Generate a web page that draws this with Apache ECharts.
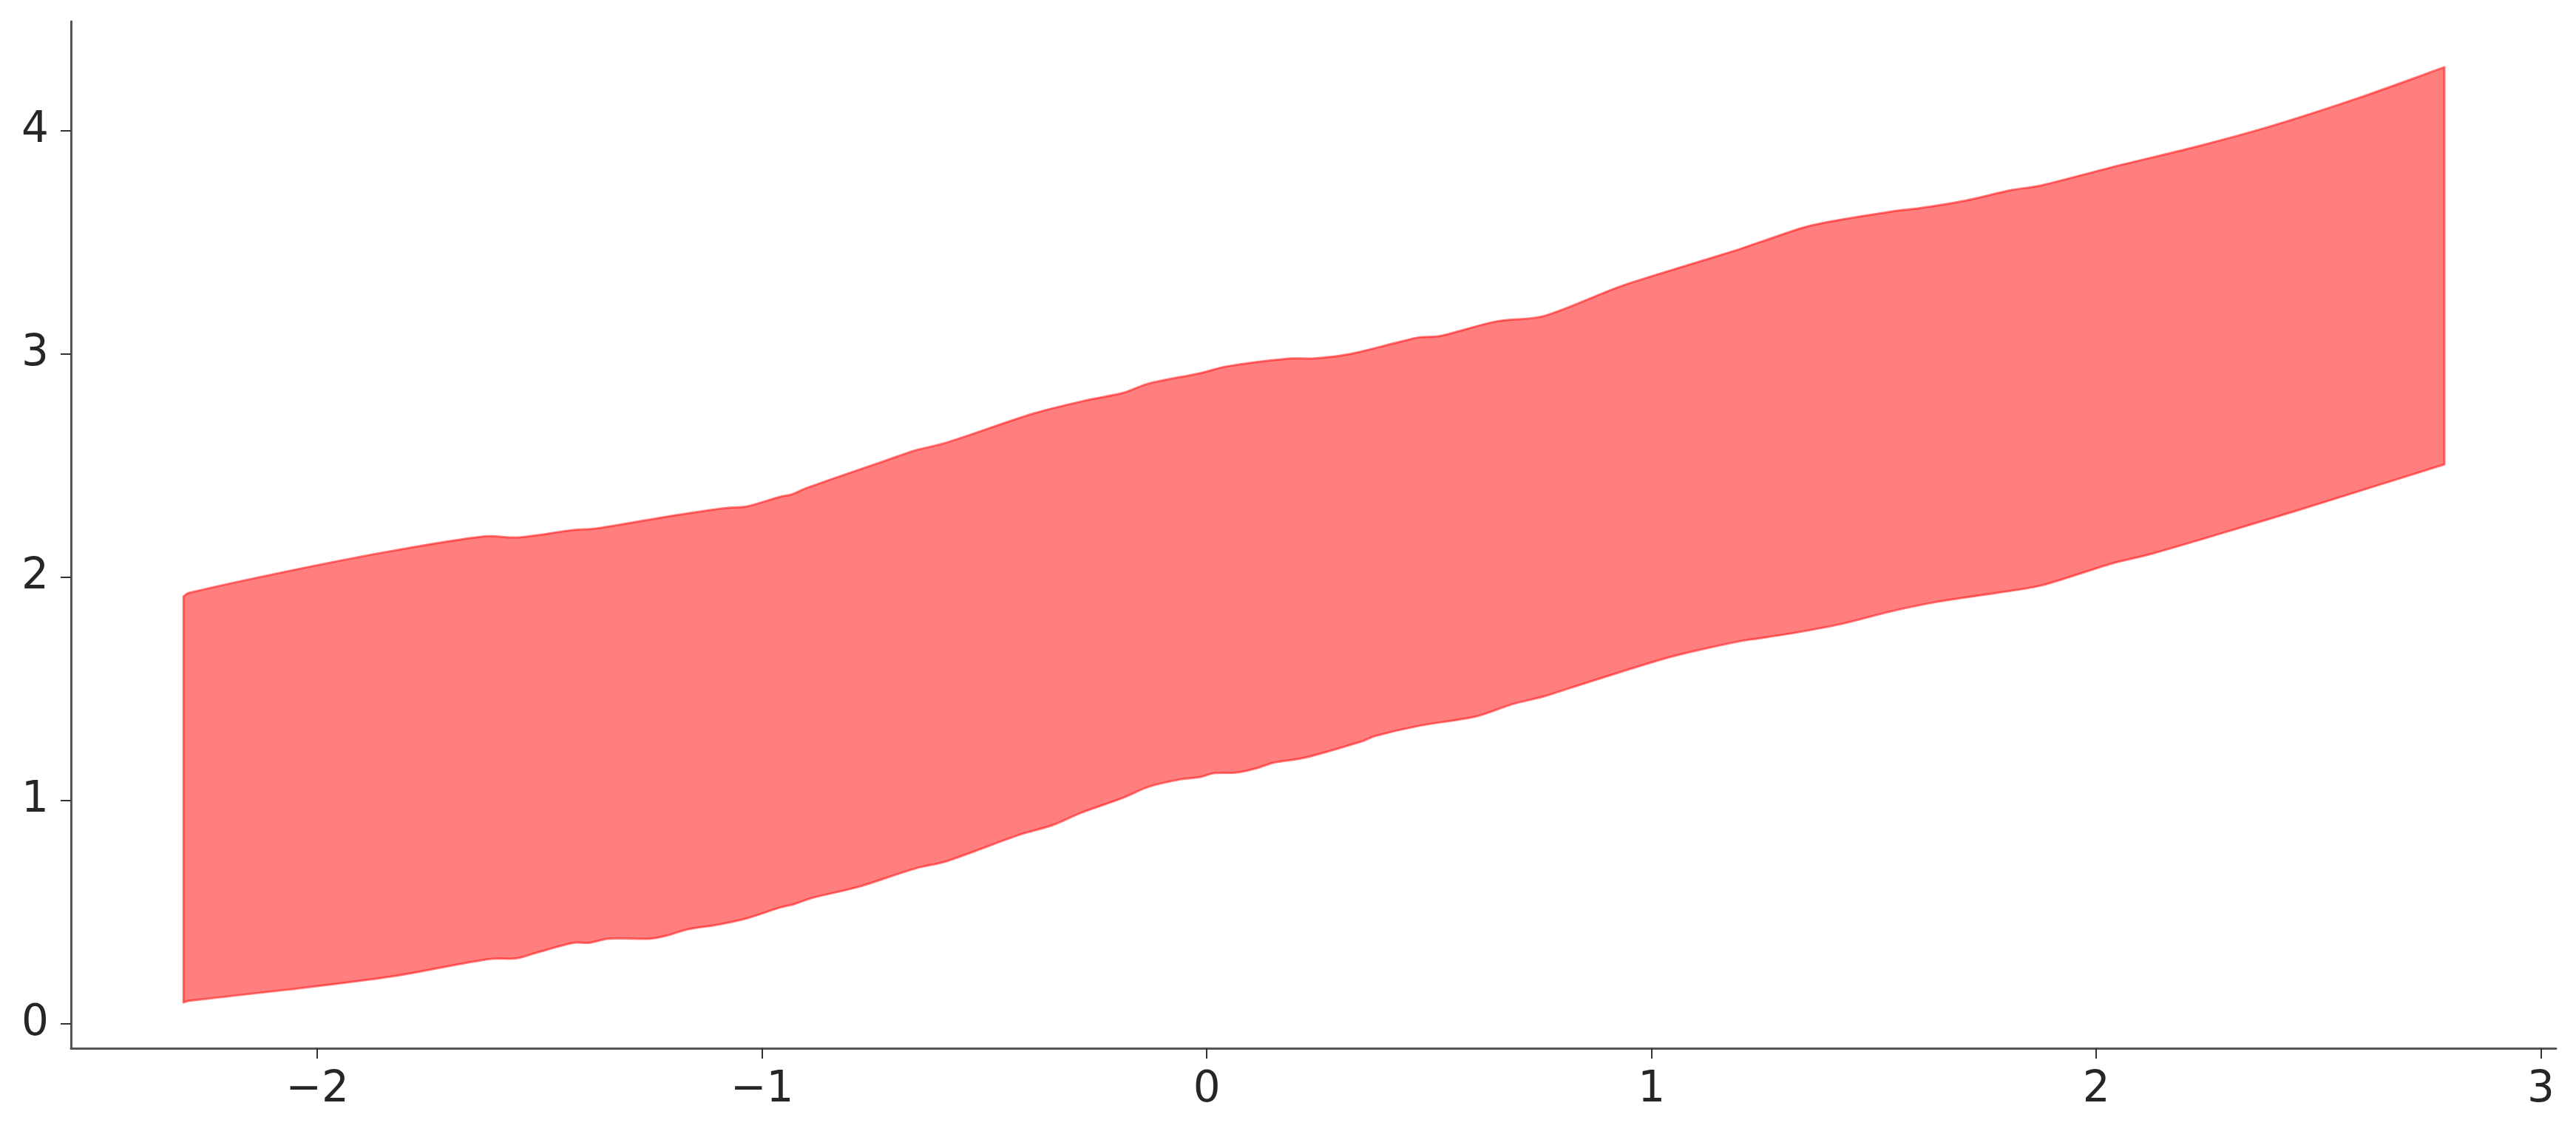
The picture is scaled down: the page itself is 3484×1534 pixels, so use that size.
<!DOCTYPE html>
<html>
<head>
<meta charset="utf-8">
<script src="https://cdn.jsdelivr.net/npm/echarts@6/dist/echarts.min.js"></script>
<style>html,body{margin:0;padding:0;background:#fff}#c{width:3484px;height:1534px}</style>
</head>
<body>
<div id="c"></div>
<script>
// Upper bound of the band
const upperX = [-2.301, -2.290, -2.068, -1.834, -1.624, -1.548, -1.425, -1.379, -1.332, -1.192, -1.086, -1.034, -0.958, -0.934, -0.899, -0.724, -0.655, -0.586, -0.388, -0.271, -0.189, -0.131, -0.014, 0.045, 0.185, 0.243, 0.325, 0.430, 0.477, 0.524, 0.652, 0.757, 0.921, 0.991, 1.190, 1.246, 1.361, 1.544, 1.601, 1.705, 1.808, 1.877, 2.049, 2.221, 2.393, 2.588, 2.783];
const upperY = [1.915, 1.930, 2.027, 2.118, 2.184, 2.179, 2.212, 2.218, 2.232, 2.279, 2.310, 2.318, 2.362, 2.371, 2.401, 2.522, 2.569, 2.603, 2.735, 2.793, 2.826, 2.868, 2.915, 2.945, 2.980, 2.981, 3.002, 3.053, 3.075, 3.081, 3.147, 3.170, 3.297, 3.343, 3.465, 3.503, 3.577, 3.640, 3.653, 3.687, 3.734, 3.756, 3.844, 3.927, 4.021, 4.146, 4.285];
// Lower bound of the band
const lowerX = [-2.301, -2.290, -2.068, -1.834, -1.612, -1.554, -1.507, -1.425, -1.390, -1.344, -1.250, -1.215, -1.168, -1.098, -1.034, -0.958, -0.929, -0.888, -0.783, -0.654, -0.586, -0.423, -0.347, -0.282, -0.189, -0.131, -0.060, -0.014, 0.015, 0.068, 0.115, 0.150, 0.220, 0.348, 0.378, 0.477, 0.605, 0.687, 0.757, 0.816, 1.003, 1.073, 1.201, 1.246, 1.326, 1.429, 1.533, 1.636, 1.785, 1.877, 2.037, 2.118, 2.278, 2.451, 2.623, 2.783];
const lowerY = [0.096, 0.103, 0.153, 0.212, 0.291, 0.293, 0.319, 0.363, 0.363, 0.382, 0.382, 0.395, 0.423, 0.445, 0.473, 0.522, 0.536, 0.564, 0.614, 0.697, 0.728, 0.846, 0.890, 0.946, 1.012, 1.062, 1.095, 1.106, 1.123, 1.126, 1.147, 1.170, 1.192, 1.265, 1.289, 1.335, 1.377, 1.432, 1.466, 1.504, 1.621, 1.659, 1.715, 1.728, 1.753, 1.792, 1.845, 1.888, 1.933, 1.964, 2.063, 2.102, 2.195, 2.299, 2.406, 2.506];
// Tick values
const xTicks = [-2, -1, 0, 1, 2, 3];
const yTicks = [0, 1, 2, 3, 4];

// Closed outline: upper left->right, then lower right->left.
// End points are repeated so the smoothed outline keeps sharp corners.
const polygonData = [];
const nU = upperX.length, nL = lowerX.length;
polygonData.push([upperX[0], upperY[0]]);
for (let i = 0; i < nU; i++) polygonData.push([upperX[i], upperY[i]]);
polygonData.push([upperX[nU - 1], upperY[nU - 1]]);
polygonData.push([lowerX[nL - 1], lowerY[nL - 1]]);
for (let i = nL - 1; i >= 0; i--) polygonData.push([lowerX[i], lowerY[i]]);
polygonData.push([lowerX[0], lowerY[0]]);

const fmt = v => String(v).replace('-', '\u2212');
const axisColor = '#555555';
const textStyle = { fontFamily: 'DejaVu Sans', fontSize: 58, color: '#262626' };

const chart = echarts.init(document.getElementById('c'), null, { renderer: 'canvas' });
chart.setOption({
  backgroundColor: '#ffffff',
  animation: false,
  grid: { left: 96, right: 27, top: 29, bottom: 116, containLabel: false },
  xAxis: {
    type: 'value', min: -2.554, max: 3.034,
    splitLine: { show: false },
    axisLine: { show: true, onZero: false, lineStyle: { color: axisColor, width: 3 } },
    axisTick: { show: true, customValues: xTicks, length: 14, lineStyle: { color: '#333333', width: 2 } },
    axisLabel: { customValues: xTicks, formatter: fmt, margin: 28, ...textStyle }
  },
  yAxis: {
    type: 'value', min: -0.109, max: 4.49,
    splitLine: { show: false },
    axisLine: { show: true, onZero: false, lineStyle: { color: axisColor, width: 3 } },
    axisTick: { show: true, customValues: yTicks, length: 14, lineStyle: { color: '#333333', width: 2 } },
    axisLabel: { customValues: yTicks, formatter: fmt, margin: 30, ...textStyle }
  },
  series: [{
    type: 'custom',
    coordinateSystem: 'cartesian2d',
    data: polygonData,
    encode: { x: 0, y: 1 },
    renderItem: function (params, api) {
      if (params.dataIndex !== 0) return null;
      const pts = polygonData.map(p => api.coord(p));
      return {
        type: 'polygon',
        shape: { points: pts, smooth: 0.3 },
        style: { fill: 'rgba(255,0,0,0.5)', stroke: 'rgba(255,0,0,0.5)', lineWidth: 3, lineJoin: 'round' }
      };
    }
  }]
});
</script>
</body>
</html>
